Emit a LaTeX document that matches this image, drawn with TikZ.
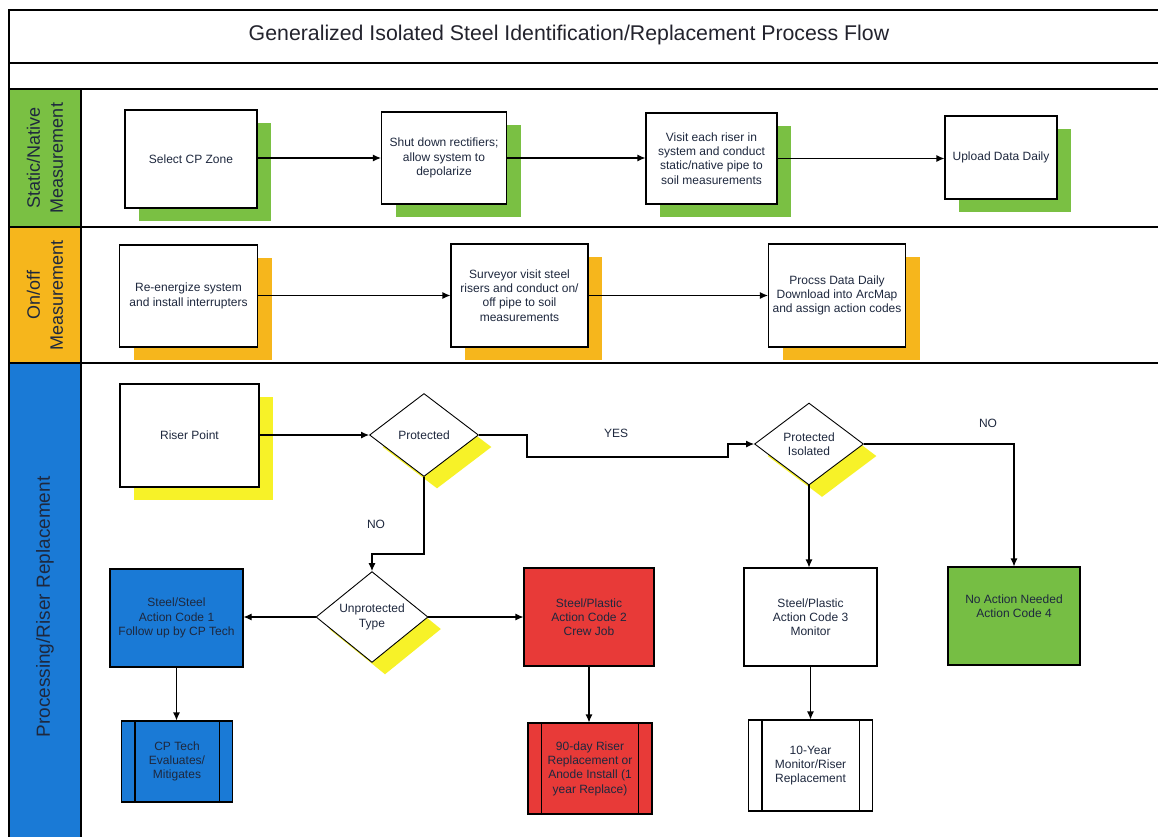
\documentclass[tikz,border=0pt]{standalone}
\usepackage{fontspec}
\setmainfont{Liberation Sans}
\usetikzlibrary{shapes.geometric,arrows.meta,shadows}
\definecolor{cgreen}{RGB}{122,192,67}
\definecolor{corange}{RGB}{246,182,28}
\definecolor{cblue}{RGB}{26,122,214}
\definecolor{cred}{RGB}{232,58,56}
\definecolor{cyellow}{RGB}{247,242,40}
\definecolor{txt}{RGB}{30,40,62}
\begin{document}
\begin{tikzpicture}[x=1pt,y=-1pt,
  frame/.style={line width=1.6pt},
  boxfont/.style={font=\fontsize{12}{14.3}\selectfont, text=txt},
  box/.style={draw=black, line width=1.1pt, fill=white, align=center, boxfont, inner sep=2pt},
  shad/.style={general shadow={fill=#1, shadow xshift=14pt, shadow yshift=-13pt}},
  dshad/.style={general shadow={fill=#1, shadow xshift=13pt, shadow yshift=-12pt}},
  dia/.style={diamond, draw=black, line width=0.9pt, fill=white, align=center, boxfont, inner sep=0pt},
  arr/.style={line width=1.1pt, -{Latex[length=8pt,width=7pt]}},
  plain/.style={line width=1.1pt},
  lanelbl/.style={rotate=90, align=center, font=\fontsize{18}{23}\selectfont, text=txt},
  lbl/.style={boxfont}
]
\useasboundingbox (0,0) rectangle (1158,836);
\clip (0,0) rectangle (1158,836);
\fill[white] (0,0) rectangle (1158,836);

% lane label fills
\fill[cgreen] (9,89) rectangle (81,227);
\fill[corange] (9,227) rectangle (81,363);
\fill[cblue] (9,363) rectangle (81,850);

% frame
\draw[frame] (1170,10) -- (9,10) -- (9,850);
\draw[frame] (9,63) -- (1170,63);
\draw[frame] (9,89) -- (1170,89);
\draw[frame] (9,227) -- (1170,227);
\draw[frame] (9,363) -- (1170,363);
\draw[frame] (81,89) -- (81,850);

\node[font=\fontsize{21.3}{24}\selectfont, text={rgb,255:red,35;green,35;blue,45}] (title) at (569,35) {Generalized Isolated Steel Identification/Replacement Process Flow};

\node[lanelbl] (lane1) at (45,158) {Static/Native\\Measurement};
\node[lanelbl] (lane2) at (45,295) {On/off\\Measurement};
\node[lanelbl, font=\fontsize{19}{23}\selectfont] (lane3) at (45,607) {Processing/Riser Replacement};

% lane 1
\node[box, shad=cgreen, minimum width=132pt, minimum height=98pt] (a1) at (191,159) {Select CP Zone};
\node[box, shad=cgreen, minimum width=125pt, minimum height=92pt] (a2) at (444,158) {Shut down rectifiers;\\allow system to\\depolarize};
\node[box, shad=cgreen, minimum width=131pt, minimum height=91pt] (a3) at (711.5,158.5) {Visit each riser in\\system and conduct\\static/native pipe to\\soil measurements};
\node[box, shad=cgreen, minimum width=112pt, minimum height=83pt] (a4) at (1001,157.5) {Upload Data Daily};
\draw[arr] (a1.east |- a2.west) -- (a2.west);
\draw[arr] (a2.east) -- (a2.east -| a3.west);
\draw[arr] (a3.east) -- (a3.east -| a4.west);

% lane 2
\node[box, shad=corange, minimum width=138pt, minimum height=102pt] (b1) at (188.5,296) {Re-energize system\\and install interrupters};
\node[box, shad=corange, minimum width=137pt, minimum height=103pt] (b2) at (519.5,295.5) {Surveyor visit steel\\risers and conduct on/\\off pipe to soil\\measurements};
\node[box, shad=corange, minimum width=137pt, minimum height=103pt] (b3) at (837,295.5) {Procss Data Daily\\Download into ArcMap\\and assign action codes};
\draw[arr] (b1.east |- b2.west) -- (b2.west);
\draw[arr] (b2.east) -- (b2.east -| b3.west);

% lane 3
\node[box, shad=cyellow, minimum width=139pt, minimum height=103pt] (c1) at (189.5,435.5) {Riser Point};
\node[dia, dshad=cyellow, minimum width=109pt, minimum height=83pt] (d1) at (424,435) {Protected};
\node[dia, dshad=cyellow, minimum width=109pt, minimum height=82pt] (d2) at (809,444) {Protected\\Isolated};
\node[dia, dshad=cyellow, minimum width=112pt, minimum height=80pt] (d3) at (372,617) {Unprotected\\Type};

\node[box, fill=cblue, minimum width=133pt, minimum height=98pt] (e1) at (176.5,618) {Steel/Steel\\Action Code 1\\Follow up by CP Tech};
\node[box, fill=cred, minimum width=130pt, minimum height=98pt] (e2) at (589,617) {Steel/Plastic\\Action Code 2\\Crew Job};
\node[box, minimum width=133pt, minimum height=98pt] (e3) at (810.5,617) {Steel/Plastic\\Action Code 3\\Monitor};
\node[box, fill={rgb,255:red,118;green,190;blue,68}, minimum width=132pt, minimum height=98pt] (e4) at (1014,616) {No Action Needed\\Action Code 4\\[6pt]};

\node[box, fill=cblue, minimum width=111pt, minimum height=81pt] (f1) at (177,761.5) {CP Tech\\Evaluates/\\Mitigates};
\node[box, fill=cred, minimum width=124pt, minimum height=91pt] (f2) at (590,768.5) {90-day Riser\\Replacement or\\Anode Install (1\\year Replace)};
\node[box, minimum width=124pt, minimum height=91pt] (f3) at (810.5,765.5) {10-Year\\Monitor/Riser\\Replacement};
\foreach \n in {f1,f2,f3}{
  \draw[plain] ([xshift=14pt]\n.north west) -- ([xshift=14pt]\n.south west);
  \draw[plain] ([xshift=-14pt]\n.north east) -- ([xshift=-14pt]\n.south east);
}

\draw[arr] (c1.east |- d1.west) -- (d1.west);
\draw[arr] (d1.east) -- ++(48,0) -- ++(0,22) -- ++(201,0) |- (d2.west);
\draw[arr] (d2.east) -| (e4.north);
\draw[arr] (d2.south) -- (d2.south |- e3.north);
\draw[arr] (d1.south) -- ++(0,77) -| (d3.north);
\draw[arr] (d3.west) -- (d3.west -| e1.east);
\draw[arr] (d3.east) -- (d3.east -| e2.west);
\draw[arr] (e1.south) -- (e1.south |- f1.north);
\draw[arr] (e2.south) -- (e2.south |- f2.north);
\draw[arr] (e3.south) -- (e3.south |- f3.north);

\node[lbl] (yes) at (616,433) {YES};
\node[lbl] (no1) at (376,524) {NO};
\node[lbl] (no2) at (988,423) {NO};
\end{tikzpicture}
\end{document}
